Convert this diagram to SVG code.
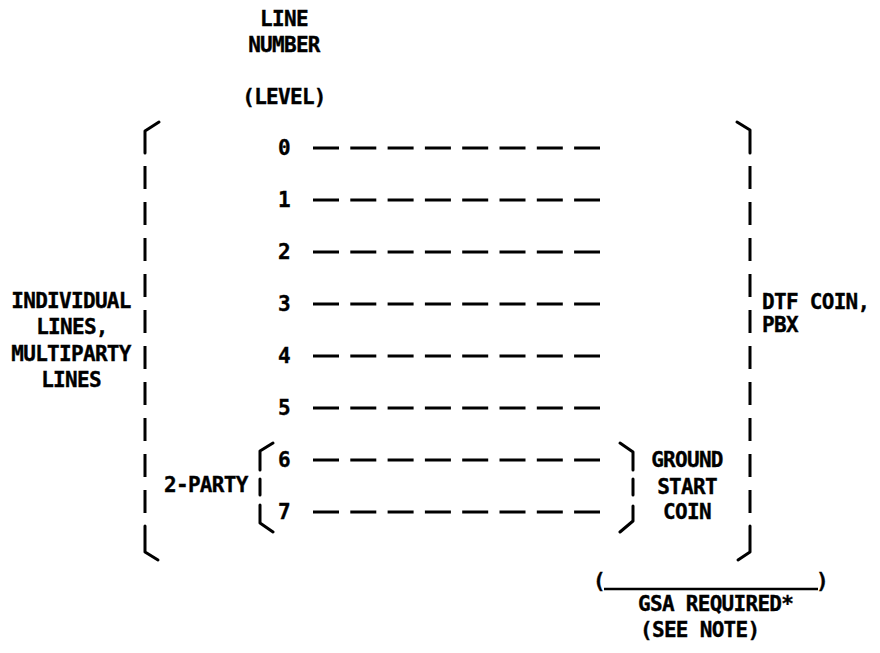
<svg xmlns="http://www.w3.org/2000/svg" width="880" height="653" viewBox="0 0 880 653">
<style>
  text { font-family: "DejaVu Sans Mono", "Liberation Mono", monospace; font-weight: bold; font-size: 21px; letter-spacing: -0.7px; fill: #000; stroke: #000; stroke-width: 0.35; }
  .mid { text-anchor: middle; }
  .br { fill: none; stroke: #000; stroke-width: 3; stroke-linecap: round; stroke-linejoin: round; }
  .brd { fill: none; stroke: #000; stroke-width: 3; stroke-dasharray: 23 13; }
  .dash { fill: none; stroke: #000; stroke-width: 3; stroke-dasharray: 26 11.3; }
  .ul { stroke: #000; stroke-width: 2.5; }
</style>
<rect width="880" height="653" fill="#fff"/>

<g id="title">
  <text class="mid" x="284" y="26">LINE</text>
  <text class="mid" x="284" y="52">NUMBER</text>
  <text class="mid" x="284" y="104">(LEVEL)</text>
</g>

<g id="levels">
  <g id="level-0"><text class="mid" x="284" y="155">0</text></g>
  <g id="level-1"><text class="mid" x="284" y="207">1</text></g>
  <g id="level-2"><text class="mid" x="284" y="259">2</text></g>
  <g id="level-3"><text class="mid" x="284" y="311">3</text></g>
  <g id="level-4"><text class="mid" x="284" y="363">4</text></g>
  <g id="level-5"><text class="mid" x="284" y="415">5</text></g>
  <g id="level-6"><text class="mid" x="284" y="467">6</text></g>
  <g id="level-7"><text class="mid" x="284" y="519">7</text></g>
</g>

<g id="connectors">
  <line class="dash" x1="313" y1="148" x2="600" y2="148"/>
  <line class="dash" x1="313" y1="200" x2="600" y2="200"/>
  <line class="dash" x1="313" y1="252" x2="600" y2="252"/>
  <line class="dash" x1="313" y1="304" x2="600" y2="304"/>
  <line class="dash" x1="313" y1="356" x2="600" y2="356"/>
  <line class="dash" x1="313" y1="408" x2="600" y2="408"/>
  <line class="dash" x1="313" y1="460" x2="600" y2="460"/>
  <line class="dash" x1="313" y1="512" x2="600" y2="512"/>
</g>

<g id="bracket-left">
  <polyline class="br" points="159,122 145,131 145,153"/>
  <line class="brd" x1="145" y1="166" x2="145" y2="513"/>
  <polyline class="br" points="145,526 145,552 158,560"/>
</g>

<g id="bracket-right">
  <polyline class="br" points="737,122 750,130 750,153"/>
  <line class="brd" x1="750" y1="166" x2="750" y2="513"/>
  <polyline class="br" points="750,526 750,552 738,560"/>
</g>

<g id="bracket-2party">
  <polyline class="br" points="273,443 260,451 260,470"/>
  <line class="br" x1="260" y1="479" x2="260" y2="495"/>
  <polyline class="br" points="260,505 260,523 273,532"/>
</g>

<g id="bracket-ground-start">
  <polyline class="br" points="620,443 633,452 633,470"/>
  <line class="br" x1="633" y1="479" x2="633" y2="495"/>
  <polyline class="br" points="633,506 633,521 620,532"/>
</g>

<g id="label-individual">
  <text class="mid" x="71" y="308">INDIVIDUAL</text>
  <text class="mid" x="72" y="334">LINES,</text>
  <text class="mid" x="71" y="361">MULTIPARTY</text>
  <text class="mid" x="71" y="387">LINES</text>
</g>

<g id="label-2party">
  <text x="164" y="492">2-PARTY</text>
</g>

<g id="label-dtf">
  <text x="762" y="309">DTF COIN,</text>
  <text x="762" y="332">PBX</text>
</g>

<g id="label-ground-start">
  <text class="mid" x="687" y="467">GROUND</text>
  <text class="mid" x="687" y="494">START</text>
  <text class="mid" x="687" y="519">COIN</text>
</g>

<g id="label-gsa">
  <text class="mid" x="599" y="588">(</text>
  <line class="ul" x1="604" y1="589" x2="818" y2="589"/>
  <text class="mid" x="822" y="588">)</text>
  <text x="638" y="611">GSA REQUIRED*</text>
  <text x="640" y="637">(SEE NOTE)</text>
</g>
</svg>
